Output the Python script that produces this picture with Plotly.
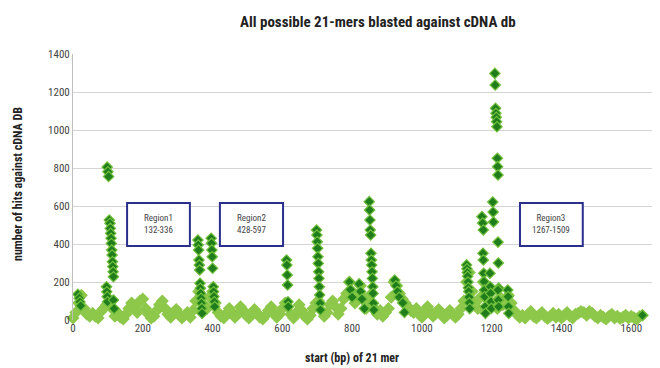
import plotly.graph_objects as go

# ---- data: background (all 21-mers), sampled every 8 bp ----
bg_start = [0, 8, 16, 24, 32, 40, 48, 56, 64, 72, 80, 88, 96, 104, 112, 120, 128, 136, 144, 152,
            160, 168, 176, 184, 192, 200, 208, 216, 224, 232, 240, 248, 256, 264, 272, 280, 288, 296, 304, 312,
            320, 328, 336, 344, 352, 360, 368, 376, 384, 392, 400, 408, 416, 424, 432, 440, 448, 456, 464, 472,
            480, 488, 496, 504, 512, 520, 528, 536, 544, 552, 560, 568, 576, 584, 592, 600, 608, 616, 624, 632,
            640, 648, 656, 664, 672, 680, 688, 696, 704, 712, 720, 728, 736, 744, 752, 760, 768, 776, 784, 792,
            800, 808, 816, 824, 832, 840, 848, 856, 864, 872, 880, 888, 896, 904, 912, 920, 928, 936, 944, 952,
            960, 968, 976, 984, 992, 1000, 1008, 1016, 1024, 1032, 1040, 1048, 1056, 1064, 1072, 1080, 1088, 1096, 1104, 1112,
            1120, 1128, 1136, 1144, 1152, 1160, 1168, 1176, 1184, 1192, 1200, 1208, 1216, 1224, 1232, 1240, 1248, 1256, 1264, 1272,
            1280, 1288, 1296, 1304, 1312, 1320, 1328, 1336, 1344, 1352, 1360, 1368, 1376, 1384, 1392, 1400, 1408, 1416, 1424, 1432,
            1440, 1448, 1456, 1464, 1472, 1480, 1488, 1496, 1504, 1512, 1520, 1528, 1536, 1544, 1552, 1560, 1568, 1576, 1584, 1592,
            1600, 1608, 1616, 1624, 1632]
bg_hits = [10, 40, 90, 130, 60, 30, 20, 35, 20, 10, 45, 60, 80, 100, 60, 20, 40, 15, 5, 30,
           60, 90, 70, 40, 100, 110, 60, 30, 10, 20, 50, 80, 100, 60, 30, 15, 40, 55, 30, 10,
           25, 40, 15, 50, 100, 150, 130, 80, 60, 120, 150, 90, 40, 20, 10, 35, 60, 40, 15, 30,
           70, 50, 25, 10, 30, 55, 35, 15, 5, 25, 50, 70, 40, 15, 30, 60, 90, 70, 30, 10,
           40, 80, 50, 20, 5, 25, 60, 90, 100, 50, 20, 40, 80, 100, 70, 30, 60, 110, 140, 200,
           150, 90, 130, 180, 120, 60, 100, 140, 60, 30, 50, 20, 40, 60, 120, 200, 180, 140, 110, 90,
           70, 50, 40, 60, 30, 15, 40, 70, 45, 20, 35, 55, 30, 10, 25, 50, 30, 15, 30, 60,
           100, 200, 250, 150, 90, 60, 120, 200, 150, 100, 160, 90, 60, 120, 80, 100, 130, 90, 50, 30,
           15, 25, 10, 30, 45, 20, 10, 25, 40, 20, 8, 20, 35, 15, 30, 10, 25, 40, 20, 10,
           30, 35, 45, 40, 25, 45, 35, 20, 10, 25, 15, 5, 20, 30, 10, 20, 8, 15, 25, 10,
           20, 12, 5, 18, 25]

# ---- data: high-hit 21-mers ----
pk_start = [14, 18, 20, 22,
            98, 100, 102, 104, 106, 107, 108, 109, 110, 111, 112, 113, 114, 115, 116, 96, 97, 98, 99, 116, 118,
            358, 359, 360, 361, 362, 363, 364, 365, 366, 367, 368, 369, 370,
            396, 397, 398, 399, 400, 402, 403, 404, 405, 406,
            612, 613, 614, 615, 616, 617,
            698, 699, 700, 701, 702, 703, 704, 705, 706, 707, 708, 709,
            792, 795, 800, 820, 824, 828, 835,
            849, 850, 851, 852, 853, 854, 855, 856, 857, 858, 859, 860, 861, 862,
            922, 926, 930, 935, 945, 950,
            1128, 1129, 1130, 1131, 1132, 1133, 1134, 1135, 1136, 1137,
            1172, 1174, 1176, 1175, 1176, 1177, 1178, 1179, 1180, 1181, 1182,
            1195, 1196, 1197, 1198, 1199,
            1203, 1204, 1205,
            1209, 1210, 1211, 1212, 1213, 1214, 1215, 1216, 1217, 1218,
            1218, 1219, 1220, 1218, 1219, 1220,
            1246, 1247, 1248, 1249,
            1632]
pk_hits = [135, 115, 95, 75,
           805, 780, 755, 526, 509, 482, 456, 430, 403, 368, 342, 307, 281, 254, 228, 175, 149, 123, 96, 105, 60,
           421, 395, 368, 316, 289, 263, 193, 167, 140, 114, 88, 61, 35,
           430, 404, 368, 333, 272, 175, 149, 123, 96, 70,
           316, 289, 237, 184, 96, 70,
           474, 447, 412, 377, 333, 298, 254, 219, 175, 132, 88, 53,
           200, 160, 120, 190, 150, 110, 60,
           623, 579, 526, 474, 447, 351, 316, 289, 254, 219, 175, 140, 88, 53,
           210, 180, 150, 120, 90, 40,
           290, 270, 250, 230, 200, 170, 150, 120, 90, 60,
           544, 510, 474, 351, 316, 246, 202, 158, 123, 70, 35,
           246, 175, 140, 96, 61,
           621, 568, 516,
           1298, 1237, 1114, 1088, 1067, 1044, 1017, 851, 807, 763,
           410, 300, 168, 158, 105, 70,
           158, 123, 70, 35,
           25]

# ---- annotated regions ----
region_labels = ["Region1<br>132-336", "Region2<br>428-597", "Region3<br>1267-1509"]
region_x0 = [155, 421, 1281]
region_x1 = [335, 602, 1461]
region_y0 = [390, 390, 390]
region_y1 = [616, 616, 616]

x_ticks = [0, 200, 400, 600, 800, 1000, 1200, 1400, 1600]
y_ticks = [0, 200, 400, 600, 800, 1000, 1200, 1400]

FONT = "Liberation Sans Narrow, Roboto Condensed, Liberation Sans, sans-serif"
LIGHT = "#8dc84a"
DARK = "#1f7d1c"

fig = go.Figure()
fig.add_trace(go.Scatter(x=bg_start, y=bg_hits, mode="markers", cliponaxis=False,
                         marker=dict(symbol="diamond", size=10, color=LIGHT,
                                     line=dict(width=0)), showlegend=False))
fig.add_trace(go.Scatter(x=pk_start, y=pk_hits, mode="markers", cliponaxis=False,
                         marker=dict(symbol="diamond", size=8, color=DARK,
                                     line=dict(width=1.2, color="#72c03c")), showlegend=False))

for lbl, a, b, c, d in zip(region_labels, region_x0, region_x1, region_y0, region_y1):
    fig.add_shape(type="rect", x0=a, x1=b, y0=c, y1=d, xref="x", yref="y",
                  line=dict(color="#2b2f8c", width=2), fillcolor="white", layer="above")
    fig.add_annotation(x=(a + b) / 2, y=(c + d) / 2, xref="x", yref="y", text=lbl,
                       showarrow=False, font=dict(family=FONT, size=9, color="#444444"))

fig.add_annotation(x=0.5, y=1, xref="paper", yref="paper", yshift=32, xshift=14,
                   xanchor="center", yanchor="middle",
                   text="<b>All possible 21-mers blasted against cDNA db</b>",
                   showarrow=False, font=dict(family=FONT, size=15, color="#222222"))
fig.add_annotation(x=0.5, y=0, xref="paper", yref="paper", yshift=-38, xshift=-12,
                   xanchor="center", yanchor="middle", text="<b>start (bp) of 21 mer</b>",
                   showarrow=False, font=dict(family=FONT, size=12, color="#222222"))
fig.add_annotation(x=0, y=0.5, xref="paper", yref="paper", xshift=-55, yshift=3,
                   xanchor="center", yanchor="middle", text="<b>number of hits against cDNA DB</b>",
                   textangle=-90, showarrow=False, font=dict(family=FONT, size=12, color="#222222"))

# page body has an 8px margin, so the figure is drawn 8px smaller and offset
fig.update_layout(
    width=652, height=360,
    margin=dict(l=65, r=5, t=46, b=48),
    paper_bgcolor="white", plot_bgcolor="white",
    font=dict(family=FONT, size=11, color="#444444"),
    xaxis=dict(range=[0, 1668], tickvals=x_ticks, showgrid=False, zeroline=False,
               showline=False, ticks="", tickfont=dict(size=11, color="#444444")),
    yaxis=dict(range=[0, 1400], tickvals=y_ticks, showgrid=True, gridcolor="#d4d4d4", gridwidth=1,
               zeroline=False, showline=True, linecolor="#bfbfbf", ticks="",
               tickfont=dict(size=11, color="#444444")),
)

fig.write_html("out.html")
